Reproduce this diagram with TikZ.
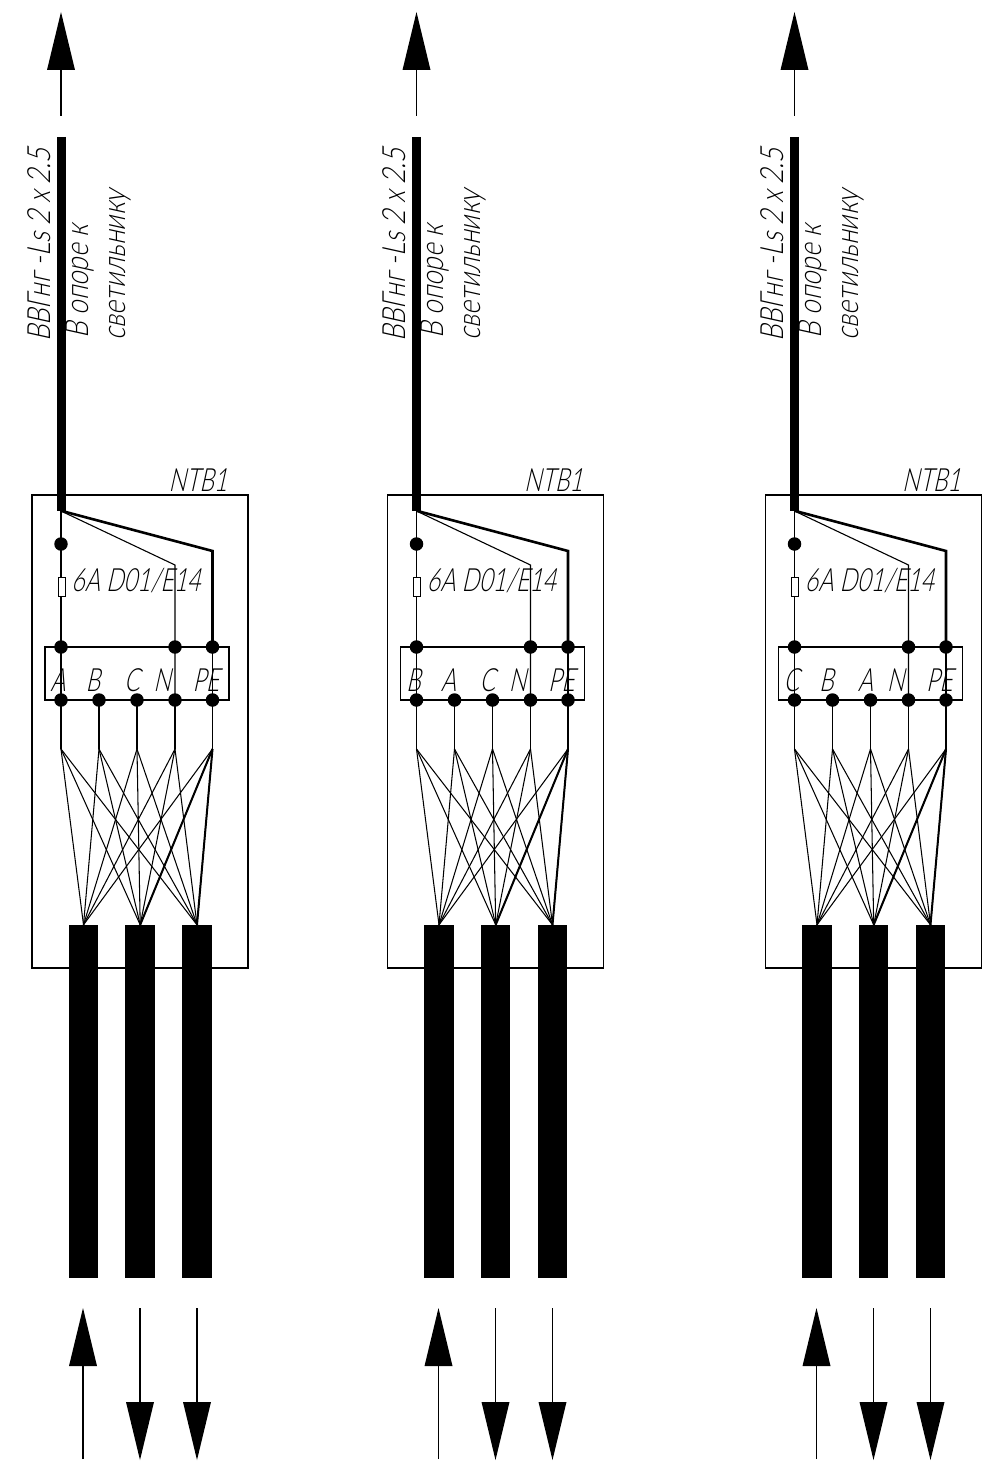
\documentclass[tikz,border=0pt]{standalone}
\usepackage{fontspec}
\usetikzlibrary{arrows.meta}
\newfontfamily\cadfont[FakeStretch=0.72,FakeSlant=0.22]{Lato Light}
\newfontfamily\cadwide[FakeStretch=0.81,FakeSlant=0.22]{Lato Light}
\newfontfamily\cadwider[FakeStretch=0.83,FakeSlant=0.22]{Lato Light}
\tikzset{
  x=1pt,y=-1pt,
  thinw/.style={line width=1.1pt,line cap=butt},
  thickw/.style={line width=2.6pt,line join=miter},
  cable/.style={line width=9pt,line cap=butt},
  flow/.style={line width=1.1pt,-{Triangle[length=58pt,width=28pt,line width=0pt]}},
  frame/.style={draw,line width=1.1pt,fill=none},
  bar/.style={fill=black,draw=none,inner sep=0,minimum width=29.5pt,minimum height=353pt},
  dot/.style={circle,fill=black,draw=none,inner sep=0,minimum size=13.5pt},
  fuse/.style={draw,line width=.9pt,fill=white,inner sep=0,minimum width=7pt,minimum height=19pt},
  lab/.style={inner sep=0,anchor=base,font=\cadfont\fontsize{32}{32}\selectfont},
  vlab/.style={inner sep=0,anchor=base west,rotate=90,font=\cadwide\fontsize{32}{32}\selectfont},
  vlabw/.style={vlab,font=\cadwider\fontsize{32}{32}\selectfont},
}
\newcommand{\panel}[5]{%
\begin{scope}[shift={(#1,0)}]
  % frame and bars
  \node[frame,inner sep=0,minimum width=216pt,minimum height=473pt] (fr#2) at (140,731.5) {};
  \node[frame,inner sep=0,minimum width=184pt,minimum height=53pt] (tb#2) at (137,673.5) {};
  \node[bar] (b1#2) at (83.5,1101.5) {};
  \node[bar] (b2#2) at (140.2,1101.5) {};
  \node[bar] (b3#2) at (197,1101.5) {};
  % top cable
  \coordinate (ct#2) at (61,137);
  \coordinate (cb#2) at (61,511);
  \draw[cable] (ct#2) -- (cb#2);
  \coordinate (at#2) at (61,116);
  \coordinate (ae#2) at (61,12);
  \draw[flow] (at#2) -- (ae#2);
  % terminals
  \node[dot] (td1#2) at (61,647) {};
  \node[dot] (td4#2) at (175,647) {};
  \node[dot] (td5#2) at (212.5,647) {};
  \node[dot] (bd1#2) at (61,700) {};
  \node[dot] (bd2#2) at (99,700) {};
  \node[dot] (bd3#2) at (137,700) {};
  \node[dot] (bd4#2) at (175,700) {};
  \node[dot] (bd5#2) at (212.5,700) {};
  \node[dot] (fd#2) at (61,544) {};
  \coordinate (kn#2) at (175,565);
  \coordinate (kp#2) at (212.5,551);
  \draw[thinw] (cb#2) -- (kn#2) -- (bd4#2.center);
  \draw[thickw] ([xshift=1pt]cb#2) -- (kp#2) -- (td5#2.center);
  \draw[thinw] (td5#2.center) -- (bd5#2.center);
  \draw[thinw] (cb#2) -- (bd1#2.center);
  \node[fuse] (fu#2) at (61.5,586.5) {};
  % fan
  \foreach \k/\px in {1/61,2/99,3/137,4/175,5/212.5}{
    \coordinate (j\k#2) at (\px,749);
    \draw[thinw] (bd\k#2.center) -- (j\k#2);
    \foreach \t in {1,2,3}{ \draw[line width=1.05pt] (j\k#2) -- (b\t#2.north); }
  }
  \draw[thickw,line width=2pt] (j5#2) -- (b2#2.north);
  \draw[thickw,line width=2pt] (j5#2) -- (b3#2.north);
  % bottom arrows
  \coordinate (f1#2) at (83,1459); \coordinate (e1#2) at (83,1308);
  \coordinate (f2#2) at (140,1308); \coordinate (e2#2) at (140,1460);
  \coordinate (f3#2) at (197,1308); \coordinate (e3#2) at (197,1460);
  \draw[flow] (f1#2) -- (e1#2);
  \draw[flow] (f2#2) -- (e2#2);
  \draw[flow] (f3#2) -- (e3#2);
  % labels
  \node[vlab] (v1#2) at (50,342) {ВВГнг -Ls 2 x 2.5};
  \node[vlab] (v2#2) at (88,339) {В опоре к};
  \node[vlabw] (v3#2) at (125,341) {светильнику};
  \node[lab] (nt#2) at (198,491) {NTB1};
  \node[lab] (fl#2) at (136,591) {6A D01/E14};
  \node[lab] (l1#2) at (58,691) {#3};
  \node[lab] (l2#2) at (93,691) {#4};
  \node[lab] (l3#2) at (132,691) {#5};
  \node[lab] (l4#2) at (162,691) {N};
  \node[lab] (l5#2) at (206,691) {PE};
\end{scope}}
\begin{document}
\begin{tikzpicture}
  \useasboundingbox (0,0) rectangle (985,1461);
  \panel{0}{a}{A}{B}{C}
  \panel{355.5}{b}{B}{A}{C}
  \panel{733.5}{c}{C}{B}{A}
\end{tikzpicture}
\end{document}
